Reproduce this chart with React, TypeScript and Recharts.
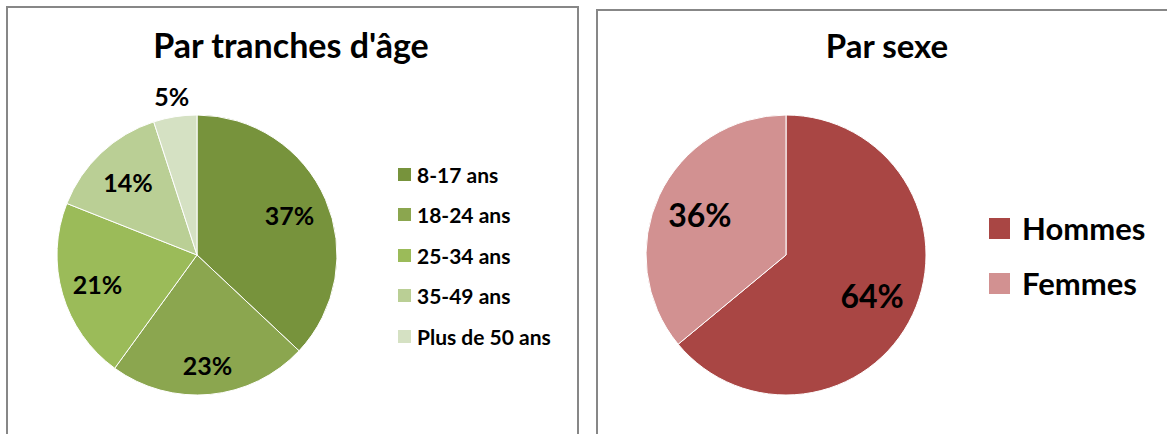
import React from "react";
import { PieChart, Pie, Cell, Legend } from "recharts";

// Par tranches d'âge
const ageLabels = ["8-17 ans", "18-24 ans", "25-34 ans", "35-49 ans", "Plus de 50 ans"];
const ageValues = [37, 23, 21, 14, 5];
const ageColors = ["#77933c", "#8ba64f", "#9bbb59", "#bacf95", "#d5e1c3"];

// Par sexe
const sexLabels = ["Hommes", "Femmes"];
const sexValues = [64, 36];
const sexColors = ["#a94644", "#d29191"];

const FONT = "Lato, 'Open Sans', sans-serif";
const RADIAN = Math.PI / 180;

const ageData = ageLabels.map((name, i) => ({ name, value: ageValues[i] }));
const sexData = sexLabels.map((name, i) => ({ name, value: sexValues[i] }));

// distance of each percentage label from the centre, as a fraction of the radius
const ageLabelPos = [0.72, 0.79, 0.74, 0.72, 1.15];
const sexLabelPos = [0.68, 0.68];

function makeLabel(pos: number[], fontSize: number) {
  return (props: any) => {
    const { cx, cy, midAngle, outerRadius, percent, index } = props;
    const r = outerRadius * pos[index];
    const x = cx + r * Math.cos(-midAngle * RADIAN);
    const y = cy + r * Math.sin(-midAngle * RADIAN);
    return (
      <text
        x={x}
        y={y}
        textAnchor="middle"
        dominantBaseline="central"
        fontFamily={FONT}
        fontWeight={700}
        fontSize={fontSize}
        fill="#000"
      >
        {`${Math.round(percent * 100)}%`}
      </text>
    );
  };
}

function LegendList({
  labels,
  colors,
  rowHeight,
  box,
  gap,
  fontSize,
}: {
  labels: string[];
  colors: string[];
  rowHeight: number;
  box: number;
  gap: number;
  fontSize: number;
}) {
  return (
    <div>
      {labels.map((l, i) => (
        <div
          key={l}
          style={{
            height: rowHeight,
            display: "flex",
            alignItems: "center",
            fontFamily: FONT,
            fontWeight: 700,
            fontSize,
            color: "#000",
            whiteSpace: "nowrap",
          }}
        >
          <span
            style={{
              display: "inline-block",
              width: box,
              height: box,
              background: colors[i],
              marginRight: gap,
            }}
          />
          {l}
        </div>
      ))}
    </div>
  );
}

const panel: React.CSSProperties = {
  position: "absolute",
  border: "2px solid #878787",
  background: "#fff",
  overflow: "hidden",
};

const noMargin = { top: 0, right: 0, bottom: 0, left: 0 };

export default function App() {
  return (
    <div style={{ position: "absolute", left: 0, top: 0, width: 1167, height: 434, overflow: "hidden", background: "#fff" }}>
      <div style={{ ...panel, left: 6, top: 6, width: 569, height: 440 }}>
        <PieChart width={569} height={440} margin={noMargin}>
          <text x={283} y={50} textAnchor="middle" fontFamily={FONT} fontWeight={700} fontSize={34} fill="#000">
            Par tranches d'âge
          </text>
          <Pie
            data={ageData}
            dataKey="value"
            nameKey="name"
            cx={189}
            cy={247}
            outerRadius={140}
            startAngle={90}
            endAngle={-270}
            stroke="#fff"
            strokeWidth={1}
            label={makeLabel(ageLabelPos, 25)}
            labelLine={false}
            isAnimationActive={false}
          >
            {ageData.map((d, i) => (
              <Cell key={d.name} fill={ageColors[i]} />
            ))}
          </Pie>
          <Legend
            layout="vertical"
            wrapperStyle={{ left: 390, top: 146, width: 180 }}
            content={() => (
              <LegendList labels={ageLabels} colors={ageColors} rowHeight={40.5} box={13} gap={6} fontSize={21} />
            )}
          />
        </PieChart>
      </div>
      <div style={{ ...panel, left: 596, top: 9, width: 600, height: 440 }}>
        <PieChart width={600} height={440} margin={noMargin}>
          <text x={289} y={47} textAnchor="middle" fontFamily={FONT} fontWeight={700} fontSize={33} fill="#000">
            Par sexe
          </text>
          <Pie
            data={sexData}
            dataKey="value"
            nameKey="name"
            cx={188}
            cy={244}
            outerRadius={140}
            startAngle={90}
            endAngle={-270}
            stroke="#fff"
            strokeWidth={1}
            label={makeLabel(sexLabelPos, 32)}
            labelLine={false}
            isAnimationActive={false}
          >
            {sexData.map((d, i) => (
              <Cell key={d.name} fill={sexColors[i]} />
            ))}
          </Pie>
          <Legend
            layout="vertical"
            wrapperStyle={{ left: 391, top: 189.5, width: 200 }}
            content={() => (
              <LegendList labels={sexLabels} colors={sexColors} rowHeight={55} box={21} gap={12} fontSize={31} />
            )}
          />
        </PieChart>
      </div>
    </div>
  );
}
